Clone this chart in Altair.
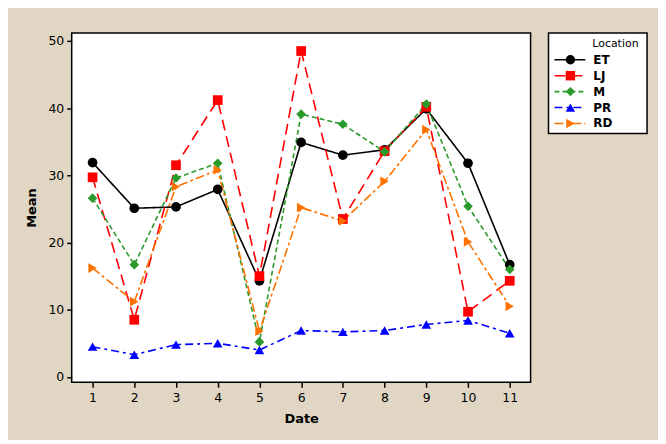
import altair as alt
import pandas as pd

dates = list(range(1, 12))
locations = ["ET", "LJ", "M", "PR", "RD"]
et = [31.9, 25.1, 25.3, 27.9, 14.3, 34.9, 33.0, 33.8, 39.9, 31.8, 16.7]
lj = [29.7, 8.5, 31.5, 41.2, 15.0, 48.5, 23.5, 33.6, 40.2, 9.7, 14.3]
m = [26.6, 16.7, 29.6, 31.8, 5.2, 39.1, 37.6, 33.5, 40.6, 25.4, 16.0]
pr = [4.5, 3.3, 4.8, 5.0, 4.0, 6.9, 6.7, 6.9, 7.8, 8.4, 6.5]
rd = [16.2, 11.2, 28.3, 30.8, 6.8, 25.2, 23.2, 29.1, 36.8, 20.1, 10.5]
series = {"ET": et, "LJ": lj, "M": m, "PR": pr, "RD": rd}

rows = []
for loc in locations:
    for d, v in zip(dates, series[loc]):
        rows.append({"Date": d, "Mean": v, "Location": loc})
df = pd.DataFrame(rows)

colors = ["#000000", "#ff0000", "#2a9a2a", "#0000ff", "#ff7200"]
shapes = ["circle", "square", "diamond", "triangle-up", "triangle-right"]
dashes = [[1, 0], [11, 6], [5, 3], [8, 4, 3, 4], [9, 3, 3, 3]]

color_s = alt.Scale(domain=locations, range=colors)
shape_s = alt.Scale(domain=locations, range=shapes)
dash_s = alt.Scale(domain=locations, range=dashes)

FONT = "DejaVu Sans"

base = alt.Chart(df).encode(
    x=alt.X("Date:Q", scale=alt.Scale(domain=[0.5, 11.5], nice=False, zero=False),
            axis=alt.Axis(values=dates, title="Date", grid=False, domain=False,
                          tickColor="black", tickSize=5, tickWidth=1.5,
                          labelFont=FONT, labelFontSize=12.5, labelColor="black",
                          titleFont=FONT, titleFontSize=13, titleFontWeight="bold",
                          titleColor="black", labelPadding=4, titlePadding=9)),
    y=alt.Y("Mean:Q", scale=alt.Scale(domain=[-0.8, 51.2], nice=False, zero=False),
            axis=alt.Axis(values=[0, 10, 20, 30, 40, 50], title="Mean", grid=False,
                          domain=False, tickColor="black", tickSize=5, tickWidth=1.5,
                          labelFont=FONT, labelFontSize=12.5, labelColor="black",
                          titleFont=FONT, titleFontSize=13, titleFontWeight="bold",
                          titleColor="black", labelPadding=3, titlePadding=9)),
    color=alt.Color("Location:N", scale=color_s, legend=None),
)

lines = base.mark_line(strokeWidth=1.6).encode(
    strokeDash=alt.StrokeDash("Location:N", scale=dash_s, legend=None),
    detail="Location:N",
)
points = base.mark_point(filled=True, opacity=1, size=95).encode(
    shape=alt.Shape("Location:N", scale=shape_s, legend=None),
)

main = alt.layer(lines, points).properties(width=461, height=351)

leg_df = pd.DataFrame({"Location": locations, "row": list(range(len(locations)))})
ly = alt.Y("row:Q", scale=alt.Scale(domain=[-1.6875, 4.625], reverse=True, nice=False, zero=False), axis=None)
lbase = alt.Chart(leg_df).encode(
    y=ly,
    color=alt.Color("Location:N", scale=color_s, legend=None),
)
lrule = lbase.mark_rule(strokeWidth=1.6).encode(
    x=alt.value(6), x2=alt.value(37),
    strokeDash=alt.StrokeDash("Location:N", scale=dash_s, legend=None),
)
lpts = lbase.mark_point(filled=True, opacity=1, size=90).encode(
    x=alt.value(22),
    shape=alt.Shape("Location:N", scale=shape_s, legend=None),
)
ltxt = alt.Chart(leg_df).mark_text(align="left", baseline="middle", font=FONT,
                                   fontSize=12, fontWeight="bold", color="black").encode(
    x=alt.value(45), y=ly, text="Location:N",
)
ltitle = alt.Chart(pd.DataFrame({"t": ["Location"]})).mark_text(
    align="left", baseline="middle", font=FONT, fontSize=11, color="black").encode(
    x=alt.value(44), y=alt.value(11), text="t:N",
)
legend = alt.layer(lrule, lpts, ltxt, ltitle).properties(width=99, height=101)

chart = alt.hconcat(main, legend, spacing=16).resolve_scale(
    color="shared", shape="shared", strokeDash="shared"
).properties(
    background="#e0d6c3",
    padding={"left": 17, "top": 23, "right": 10, "bottom": 12},
).configure_view(
    fill="white", stroke="black", strokeWidth=1.5,
)

chart.save("out.html", embed_options={"renderer": "svg", "actions": False})
